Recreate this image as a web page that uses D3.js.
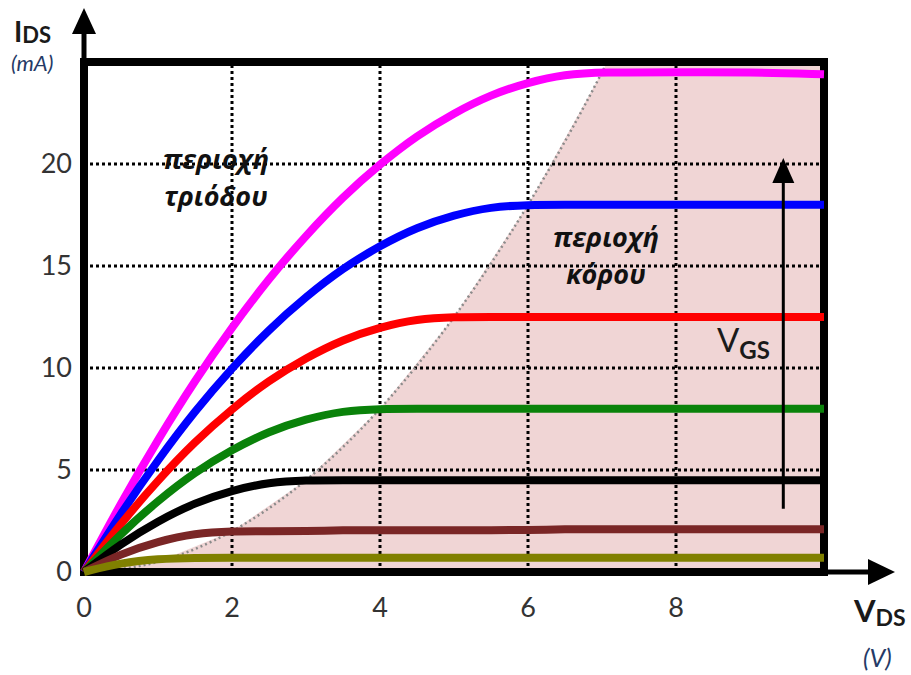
<!DOCTYPE html>
<html>
<head>
<meta charset="utf-8">
<script src="https://cdn.jsdelivr.net/npm/d3@7"></script>
<style>
  html, body { margin: 0; padding: 0; background: #fff; }
  svg { display: block; }
</style>
</head>
<body>
<div id="chart"></div>
<script>
// V_DS sample points (V) shared by all curves
var vds = [0, 0.5, 1, 1.5, 2, 2.5, 3, 3.5, 4, 4.5, 5, 5.5, 6, 6.5, 7, 8, 9, 10];

// I_DS (mA), one curve per V_GS
var idsMagenta = [0, 3.4, 6.5, 9.4, 12, 14.4, 16.5, 18.4, 20, 21.4, 22.5, 23.4, 24, 24.4, 24.5, 24.5, 24.5, 24.4];
var idsBlue    = [0, 2.9, 5.5, 7.9, 10, 11.9, 13.5, 14.9, 16, 16.9, 17.5, 17.9, 18, 18, 18, 18, 18, 18];
var idsRed     = [0, 2.4, 4.5, 6.4, 8, 9.4, 10.5, 11.4, 12, 12.4, 12.5, 12.5, 12.5, 12.5, 12.5, 12.5, 12.5, 12.5];
var idsGreen   = [0, 1.9, 3.5, 4.9, 6, 6.9, 7.5, 7.9, 8, 8, 8, 8, 8, 8, 8, 8, 8, 8];
var idsBlack   = [0, 1.4, 2.5, 3.4, 4, 4.4, 4.5, 4.5, 4.5, 4.5, 4.5, 4.5, 4.5, 4.5, 4.5, 4.5, 4.5, 4.5];
var idsBrown   = [0, 0.9, 1.5, 1.9, 2, 2, 2, 2.05, 2.05, 2.05, 2.05, 2.05, 2.05, 2.1, 2.1, 2.1, 2.1, 2.1];
var idsOlive   = [0, 0.45, 0.65, 0.7, 0.7, 0.7, 0.7, 0.7, 0.7, 0.7, 0.7, 0.7, 0.7, 0.7, 0.7, 0.7, 0.7, 0.7];

var curveColors = ["#ff00ff", "#0000ff", "#ff0000", "#0a820a", "#000000", "#7a2626", "#808000"];

// saturation boundary (dotted line, edge of shaded region)
var edgeVds = [0, 1, 2, 3, 4, 5, 6, 7, 7.07];
var edgeIds = [0, 0.5, 2, 4.5, 8, 12.5, 18, 24.5, 25];

var xTicks = [0, 2, 4, 6, 8];
var yTicks = [0, 5, 10, 15, 20];
var xGrid = [2, 4, 6, 8];
var yGrid = [5, 10, 15, 20];

var width = 911, height = 675;

var x = d3.scaleLinear().domain([0, 10]).range([84, 824]);
var y = d3.scaleLinear().domain([0, 25]).range([572, 62]);

var svg = d3.select("#chart").append("svg")
    .attr("width", width)
    .attr("height", height);

var numFont = "Lato, 'Open Sans', sans-serif";
var greekFont = "'Open Sans', 'Noto Sans', sans-serif";

// shaded saturation region
var edge = edgeVds.map(function(v, i) { return [v, edgeIds[i]]; });
var region = edge.concat([[10, 25], [10, 0]]);
svg.append("path")
    .attr("d", d3.line().x(function(d) { return x(d[0]); }).y(function(d) { return y(d[1]); })(region) + "Z")
    .attr("fill", "#f0d5d5");

// grid
svg.selectAll(".hgrid")
    .data(yGrid)
  .enter().append("line")
    .attr("x1", x(0)).attr("x2", x(10))
    .attr("y1", function(d) { return y(d); })
    .attr("y2", function(d) { return y(d); })
    .attr("stroke", "#000")
    .attr("stroke-width", 3)
    .attr("stroke-dasharray", "3,3");

svg.selectAll(".vgrid")
    .data(xGrid)
  .enter().append("line")
    .attr("y1", y(0)).attr("y2", y(25))
    .attr("x1", function(d) { return x(d); })
    .attr("x2", function(d) { return x(d); })
    .attr("stroke", "#000")
    .attr("stroke-width", 3)
    .attr("stroke-dasharray", "3,3");

// boundary dotted line
svg.append("path")
    .attr("d", d3.line().x(function(d) { return x(d[0]); }).y(function(d) { return y(d[1]); }).curve(d3.curveMonotoneX)(edge))
    .attr("fill", "none")
    .attr("stroke", "#8a8a8a")
    .attr("stroke-width", 2.5)
    .attr("stroke-dasharray", "2,3");

// frame
svg.append("rect")
    .attr("x", x(0)).attr("y", y(25))
    .attr("width", x(10) - x(0))
    .attr("height", y(0) - y(25))
    .attr("fill", "none")
    .attr("stroke", "#000")
    .attr("stroke-width", 8);

// axis arrows
svg.append("line")
    .attr("x1", x(0)).attr("x2", x(0))
    .attr("y1", y(25)).attr("y2", 30)
    .attr("stroke", "#000").attr("stroke-width", 5);
svg.append("path")
    .attr("d", "M" + x(0) + ",8 L" + (x(0) - 12) + ",34 L" + (x(0) + 12) + ",34 Z")
    .attr("fill", "#000");
svg.append("line")
    .attr("x1", x(10)).attr("x2", 872)
    .attr("y1", y(0)).attr("y2", y(0))
    .attr("stroke", "#000").attr("stroke-width", 5);
svg.append("path")
    .attr("d", "M895," + y(0) + " L868," + (y(0) - 13) + " L868," + (y(0) + 13) + " Z")
    .attr("fill", "#000");

// curves
var allIds = [idsMagenta, idsBlue, idsRed, idsGreen, idsBlack, idsBrown, idsOlive];
var line = d3.line()
    .x(function(d) { return x(d[0]); })
    .y(function(d) { return y(d[1]); })
    .curve(d3.curveBasis);

svg.selectAll(".curve")
    .data(allIds)
  .enter().append("path")
    .attr("class", "curve")
    .attr("d", function(ids) { return line(vds.map(function(v, i) { return [v, ids[i]]; })); })
    .attr("fill", "none")
    .attr("stroke", function(d, i) { return curveColors[i]; })
    .attr("stroke-width", 8)
    .attr("stroke-linecap", "butt");

// tick labels
svg.selectAll(".xtick")
    .data(xTicks)
  .enter().append("text")
    .attr("x", function(d) { return x(d); })
    .attr("y", 617)
    .attr("text-anchor", "middle")
    .attr("font-family", numFont)
    .attr("font-size", 27)
    .attr("fill", "#333")
    .text(function(d) { return d; });

svg.selectAll(".ytick")
    .data(yTicks)
  .enter().append("text")
    .attr("x", 72)
    .attr("y", function(d) { return y(d) + 9; })
    .attr("text-anchor", "end")
    .attr("font-family", numFont)
    .attr("font-size", 27)
    .attr("fill", "#333")
    .text(function(d) { return d; });

// axis titles
var iT = svg.append("text")
    .attr("x", 14).attr("y", 42)
    .attr("font-family", numFont).attr("font-weight", "bold")
    .attr("fill", "#1a1a1a");
iT.append("tspan").attr("font-size", 28).text("I");
iT.append("tspan").attr("font-size", 22).attr("dy", 1).text("DS");
svg.append("text")
    .attr("x", 11).attr("y", 71)
    .attr("font-family", numFont).attr("font-style", "italic")
    .attr("font-size", 22).attr("fill", "#253a66")
    .text("(mA)");

var vT = svg.append("text")
    .attr("x", 854).attr("y", 622)
    .attr("font-family", numFont).attr("font-weight", "bold")
    .attr("fill", "#1a1a1a");
vT.append("tspan").attr("font-size", 31).text("V");
vT.append("tspan").attr("font-size", 23).attr("dy", 4).text("DS");
svg.append("text")
    .attr("x", 863).attr("y", 667)
    .attr("font-family", numFont).attr("font-style", "italic")
    .attr("font-size", 25).attr("fill", "#253a66")
    .text("(V)");

// V_GS arrow
svg.append("line")
    .attr("x1", x(9.45)).attr("x2", x(9.45))
    .attr("y1", y(3.1)).attr("y2", y(19.5))
    .attr("stroke", "#000").attr("stroke-width", 3);
svg.append("path")
    .attr("d", "M" + x(9.45) + "," + y(20.3) + " L" + (x(9.45) - 11) + "," + (y(20.3) + 25) + " L" + (x(9.45) + 11) + "," + (y(20.3) + 25) + " Z")
    .attr("fill", "#000");
var gT = svg.append("text")
    .attr("x", 717).attr("y", 352)
    .attr("font-family", numFont)
    .attr("fill", "#1a1a1a");
gT.append("tspan").attr("font-size", 33).text("V");
gT.append("tspan").attr("font-size", 24).attr("dy", 7).attr("font-weight", "bold").text("GS");

// region labels
function regionLabel(lines, cx, y0) {
  svg.append("g").selectAll("text")
      .data(lines)
    .enter().append("text")
      .attr("x", cx)
      .attr("y", function(d, i) { return y0 + i * 37; })
      .attr("text-anchor", "middle")
      .attr("font-family", greekFont)
      .attr("font-weight", "bold")
      .attr("font-style", "italic")
      .attr("font-size", 27)
      .attr("fill", "#111")
      .text(function(d) { return d; });
}
regionLabel(["περιοχή", "τριόδου"], 216, 169);
regionLabel(["περιοχή", "κόρου"], 606, 247);
</script>
</body>
</html>
